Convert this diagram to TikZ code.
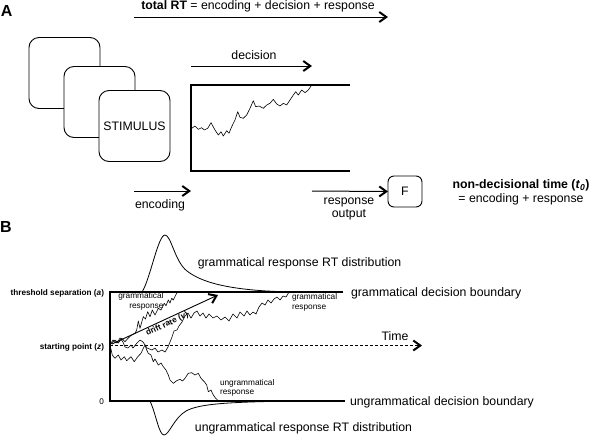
\documentclass[tikz,border=0pt]{standalone}
\usepackage{fontspec}
\setmainfont{Liberation Sans}
\usetikzlibrary{arrows.meta}
\begin{document}
\begin{tikzpicture}[x=1pt,y=-1pt,
  every node/.style={inner sep=0pt, outer sep=0pt},
  big/.style={font=\fontsize{12.3}{14}\selectfont},
  small/.style={font=\fontsize{8.3}{9.5}\selectfont},
  axlbl/.style={font=\bfseries\fontsize{8.2}{10}\selectfont, anchor=base east},
  panel/.style={font=\bfseries\fontsize{16}{18}\selectfont},
  tipb/.style={-{Straight Barb[length=7pt,width=10pt,line width=2pt]}},
  arr/.style={line width=1pt, tipb},
  card/.style={draw, rounded corners=10pt, fill=white, line width=0.9pt,
    minimum width=71pt, minimum height=71pt, big},
  fbox/.style={draw, rounded corners=6pt, line width=0.9pt,
    minimum width=34pt, minimum height=31pt, big},
  frame/.style={line width=1.1pt},
  walk/.style={line width=0.6pt, line join=round},
  dist/.style={line width=0.8pt},
]
\useasboundingbox (0,0) rectangle (590,437);

% ---------------- Panel A ----------------
\node[panel, anchor=base west] (labA) at (1,16) {A};
\node[big, anchor=base] (totrt) at (258,9) {\textbf{total RT} = encoding + decision + response};
\coordinate (t1) at (134,17); \coordinate (t2) at (388,17);
\draw[arr] (t1) -- (t2);

\node[card] (c1) at (64.5,73) {};
\node[card] (c2) at (99.5,102) {};
\node[card] (c3) at (134.5,126) {STIMULUS};

\coordinate (d1) at (191,85); \coordinate (d2) at (350,85);
\coordinate (d3) at (191,171); \coordinate (d4) at (350,171);
\draw[frame] (d2) -- (d1) -- (d3) -- (d4);

\draw[walk] plot coordinates {(191.7,128.3) (195,126) (198.3,129.3) (201.7,127.7) (204.3,130) (207.7,128.3) (211,122.7) (215,130) (218.3,135) (221,131.7) (223.3,136) (226.7,130.7) (229,133.3) (231.7,126.7) (235,120) (237.7,111.7) (240,117.3) (243.3,118.3) (246.7,115) (250,108.3) (253.3,100.7) (255.7,106.7) (259,106) (263.3,108.3) (266.7,105) (270,103.3) (273.3,99.3) (276.7,104) (280,106) (283.3,103.3) (286.7,105) (290,100) (293.3,95) (295.7,91.7) (298.3,95) (301.7,90) (305,92.7) (308.3,90) (311.7,85)};

\node[big, anchor=base] (dec) at (254,59) {decision};
\coordinate (da1) at (191,66); \coordinate (da2) at (312,66);
\draw[arr] (da1) -- (da2);

\node[big, anchor=base] (enc) at (160,208) {encoding};
\coordinate (e1) at (134,191); \coordinate (e2) at (191,191);
\draw[arr] (e1) -- (e2);

\node[fbox] (F) at (405,191.5) {F};
\coordinate (r1) at (312,191);
\draw[arr] (r1) -- (F.west);
\node[big, align=center, font=\fontsize{12.3}{13}\selectfont] (resp) at (349,208.5) {response\\output};

\node[big, align=center, font=\fontsize{12.3}{14}\selectfont] (ndt) at (521,192.5)
  {\textbf{non-decisional time (\textit{t}\textsubscript{\textit{0}})}\\= encoding + response};

% ---------------- Panel B ----------------
\node[panel, anchor=base west] (labB) at (0,232) {B};

% distributions
\draw[dist] (142,292) .. controls (150,280) and (158,235) .. (165,235)
  .. controls (171,235) and (175,262) .. (187,271)
  .. controls (200,281) and (225,291) .. (295,292);
\draw[dist] (150,401) .. controls (156,414) and (159,435) .. (164,435)
  .. controls (169,435) and (174,418) .. (186,411)
  .. controls (199,404) and (225,402) .. (295,401);

\node[big, anchor=base] (gdist) at (299.5,266) {grammatical response RT distribution};
\node[big, anchor=base] (udist) at (303.5,431.5) {ungrammatical response RT distribution};

% frame
\coordinate (b0) at (110,292); \coordinate (b1) at (343,292);
\coordinate (b2) at (110,401); \coordinate (b3) at (345,401);
\draw[frame] (b1) -- (b0) -- (b2) -- (b3);
\node[big, anchor=base west] (gb) at (351,296.5) {grammatical decision boundary};
\node[big, anchor=base west] (ub) at (350,405.5) {ungrammatical decision boundary};

\node[axlbl] (thr) at (104,295.5) {threshold separation (\textit{a})};
\node[axlbl] (stp) at (104,349) {starting point (\textit{z})};
\node[axlbl, font=\fontsize{8.2}{10}\selectfont] (zero) at (104,404) {0};

% time axis
\coordinate (s0) at (110,345.5); \coordinate (s1) at (422,345.5);
\draw[line width=0.7pt, dash pattern=on 3pt off 2pt, tipb] (s0) -- (s1);
\node[big, anchor=base] (time) at (395,340) {Time};

% random walks
\draw[walk] plot coordinates {(110,345) (115,340) (118.3,343) (121.7,338.3) (125,341.7) (128.3,338) (131.7,335) (135,333.3) (136.7,330) (138.3,321) (140,328.3) (143.3,316.7) (145.5,319) (147.7,311.7) (150,316.7) (152.3,310) (155,315) (158.3,308.3) (161,310) (164.3,303.3) (166,305.7) (168.3,300) (170,303) (171.7,298.3) (173.3,300) (175.7,295) (177.7,291.7)};

\draw[walk] plot coordinates {(110,345) (113,340) (117,343) (120,338) (123,342) (125,347) (128,348) (131,345) (133,348) (137,343) (140,340) (143,342) (147,348) (152,350) (155,348) (158,352) (162,350) (165,352) (168,347) (170,342) (172,337) (174,331) (177,330) (179,326) (182,322) (185,316) (188,313) (191,318) (194,313) (197,311) (200,316) (203,313) (206,318) (209,314) (213,318) (217,316) (221,320) (225,317) (229,321) (233,314) (237,318) (240,312) (244,316) (247,311) (250,315) (253,312) (256,314) (259,307) (262,303) (265,305) (268,300) (271,303) (274,299) (277,297) (280,300) (283,296) (286,297) (289,292)};

\draw[walk] plot coordinates {(110,345) (112.3,355) (115,358.3) (118.3,355) (121,360) (124.3,356.7) (126.7,360.7) (131,356.7) (134.3,361.7) (137.5,357) (141,353.3) (143.3,348.3) (145,345) (146.7,350) (148.3,353.3) (151,355) (153.3,361.7) (155,359) (158.3,365) (161,363) (163.3,366.7) (166,370) (168.3,375) (170,380) (173.3,383.3) (176.7,380.7) (180,379.3) (182.5,381) (185,378.3) (188.3,373.3) (191.7,372.7) (195,375) (198.3,373.3) (201,378.3) (204.3,381.7) (206.7,385) (208.3,391.7) (211,390) (213.3,395) (215.7,398.3) (218.3,400.7) (221.7,400.7)};

% drift rate
\coordinate (v0) at (112,344); \coordinate (v1) at (218,295);
\draw[line width=0.9pt, tipb] (v0) -- node[sloped, below=1.5pt, font=\bfseries\fontsize{8.2}{10}\selectfont] (drift) {drift rate (\textit{v})} (v1);

% small labels
\node[small, align=right, anchor=north east] (gl) at (163.5,292.5) {grammatical\\response};
\node[small, align=left, anchor=north west] (gr) at (292,293.5) {grammatical\\response};
\node[small, align=left, anchor=north west] (ul) at (220,379) {ungrammatical\\response};
\end{tikzpicture}
\end{document}
